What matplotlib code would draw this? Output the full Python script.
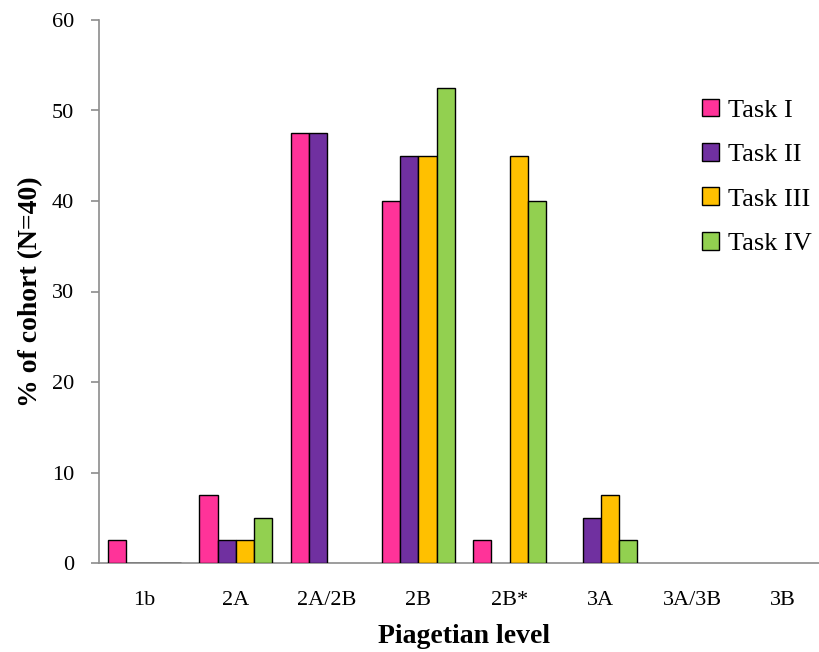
import matplotlib
matplotlib.use("Agg")
import matplotlib.pyplot as plt
import numpy as np

levels = ["1b", "2A", "2A/2B", "2B", "2B*", "3A", "3A/3B", "3B"]
task_names = ["Task I", "Task II", "Task III", "Task IV"]
task_1 = [2.5, 7.5, 47.5, 40.0, 2.5, 0.0, 0.0, 0.0]
task_2 = [0.0, 2.5, 47.5, 45.0, 0.0, 5.0, 0.0, 0.0]
task_3 = [0.0, 2.5, 0.0, 45.0, 45.0, 7.5, 0.0, 0.0]
task_4 = [0.0, 5.0, 0.0, 52.5, 40.0, 2.5, 0.0, 0.0]
series = [task_1, task_2, task_3, task_4]
colors = ["#FF3399", "#7030A0", "#FFC000", "#92D050"]

plt.rcParams["font.family"] = ["Liberation Serif", "DejaVu Serif"]

fig = plt.figure(figsize=(8.2, 6.52), dpi=100)
ax = fig.add_axes([99 / 820, 1 - 563 / 652, 730 / 820, 543 / 652])

x = np.arange(len(levels))
group = 0.8
w = group / len(series)
for i, (vals, c, name) in enumerate(zip(series, colors, task_names)):
    offs = -group / 2 + w * (i + 0.5)
    vals = np.asarray(vals)
    # empty categories get no outline so the baseline stays clean
    edges = ["black" if v > 0 else "none" for v in vals]
    ax.bar(x + offs, vals, width=w, color=c, edgecolor=edges,
           linewidth=1.0, label=name, zorder=3)

ax.set_xlim(-0.5, len(levels) - 0.5)
ax.set_ylim(0, 60)
ax.set_yticks(range(0, 61, 10))
ax.set_xticks(x)
ax.set_xticklabels(levels)

for s in ["top", "right"]:
    ax.spines[s].set_visible(False)
for s in ["left", "bottom"]:
    ax.spines[s].set_color("#8c8c8c")
    ax.spines[s].set_linewidth(1.2)

ax.tick_params(axis="y", direction="out", length=6, width=1.2,
               color="#8c8c8c", labelsize=16, pad=12)
ax.tick_params(axis="x", length=0, labelsize=16, pad=20)

ax.set_ylabel("% of cohort (N=40)", fontsize=20, fontweight="bold", labelpad=6)
ax.set_xlabel("Piagetian level", fontsize=20, fontweight="bold", labelpad=10)

handles, labels = ax.get_legend_handles_labels()
for h in handles:
    h.patches[0].set_edgecolor("black")
leg = ax.legend(handles, labels, loc="upper left",
                bbox_to_anchor=(592 / 730, 1 - 68 / 543),
                frameon=False, fontsize=19, handlelength=0.65,
                handleheight=0.65, handletextpad=0.35, labelspacing=0.81,
                borderaxespad=0)

fig.savefig("out.png", dpi=100)
